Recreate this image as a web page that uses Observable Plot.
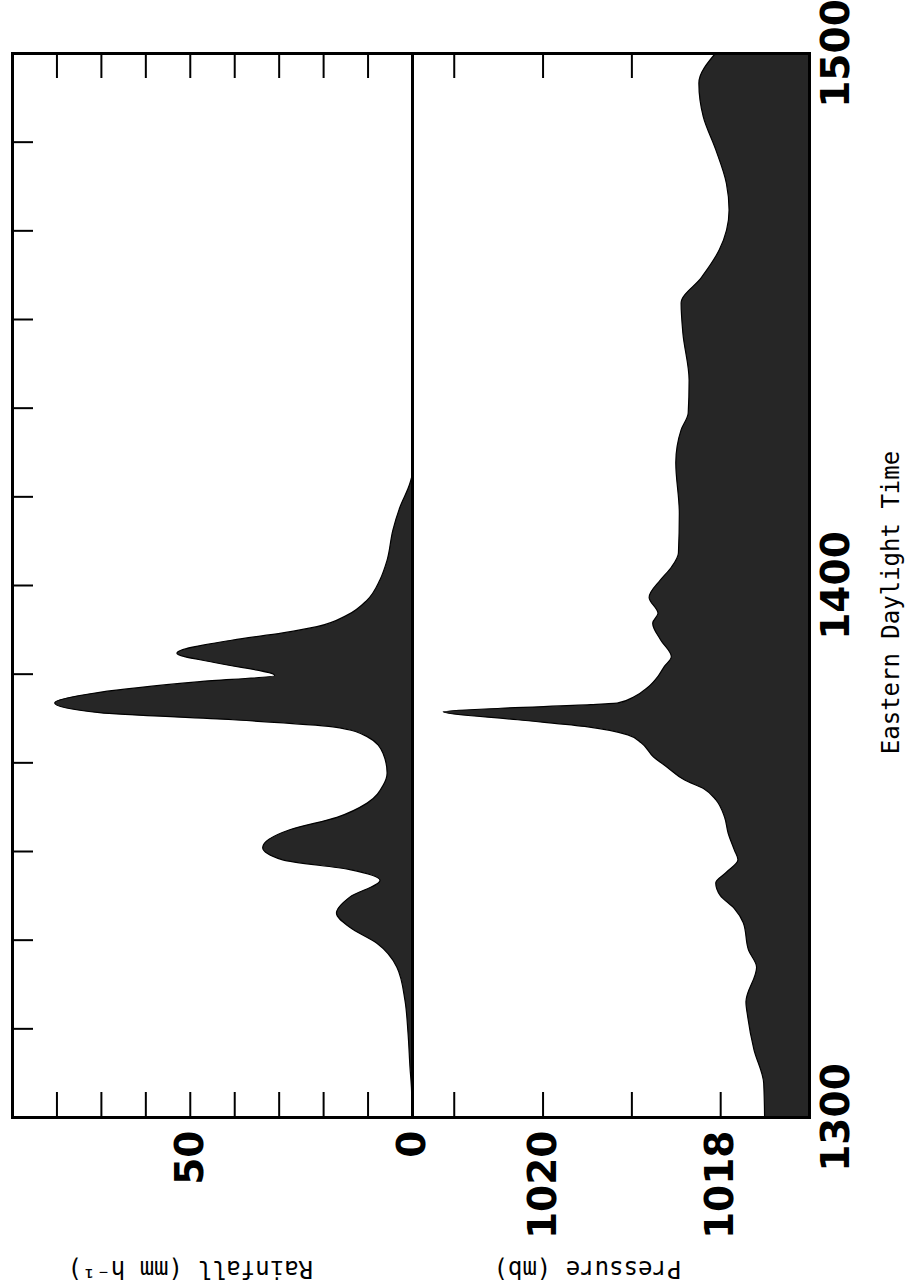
<!DOCTYPE html>
<html>
<head>
<meta charset="utf-8">
<script src="https://cdn.jsdelivr.net/npm/d3@7"></script>
<script src="https://cdn.jsdelivr.net/npm/@observablehq/plot@0.6"></script>
<style>
html, body { margin: 0; padding: 0; background: #fff; }
#chart { position: relative; width: 911px; height: 1287px; overflow: hidden; }
#chart svg { position: absolute; left: 0; top: 0; }
</style>
</head>
<body>
<div id="chart"></div>
<script>
// ---- time axis (minutes after 1300 EDT) ----
const timeDomain = [0, 120];
const timeTickValues = [0, 60, 120];
const timeTickLabels = ["1300", "1400", "1500"];
const minorTimeTicks = [10, 20, 30, 40, 50, 60, 70, 80, 90, 100, 110];

// ---- rainfall panel ----
const rainDomain = [90, 0];
const rainTicks = [10, 20, 30, 40, 50, 60, 70, 80];
const rainLabels = [50, 0];
const rainMinutes = [0, 3, 5.6, 9.5, 13.2, 16.9, 19.6, 21.4, 23.0, 24.8, 26.7, 27.9, 29.0, 30.4, 32.4, 33.8, 35.4, 37.4, 38.8, 41.0, 42.9, 44.0, 44.8, 45.6, 46.7, 47.9, 49.1, 49.8, 51.2, 52.3, 53.8, 54.6, 55.3, 56.6, 58.3, 60.6, 62.8, 66.2, 68.8, 71.5, 72.5, 120];
const rainValues  = [0, 0.1, 0.45, 0.9, 1.6, 3.4, 7.9, 14.0, 17.0, 14.0, 7.2, 14.0, 29.1, 33.6, 27.5, 16.9, 10.1, 6.5, 5.6, 6.5, 10.1, 17.8, 40.3, 70.3, 80.4, 70.3, 47.7, 30.9, 43.9, 52.9, 40.3, 29.1, 21.4, 14.6, 10.1, 7.2, 5.6, 4.3, 2.7, 0.45, 0, 0];

// ---- pressure panel ----
const pressDomain = [1021.47, 1017];
const pressBase = 1017;
const pressTicks = [1021, 1020, 1019, 1018];
const pressLabels = [1020, 1018];
const pressMinutes = [0, 3.8, 7.6, 11.3, 13.0, 16.9, 18.8, 21.9, 23.5, 25.0, 26.4, 27.6, 29.0, 30.1, 32.0, 33.8, 35.8, 37.0, 38.0, 39.4, 40.6, 42.2, 43.1, 44.0, 44.8, 45.7, 46.1, 46.5, 46.7, 47.4, 48.5, 49.7, 50.8, 51.9, 53.8, 55.7, 56.8, 58.6, 60.6, 62.0, 63.6, 68.1, 73.8, 77.5, 79.4, 83.1, 88.4, 91.8, 94.7, 97.8, 102.3, 105.3, 109.1, 112.8, 116.6, 120];
const pressValues  = [1017.50, 1017.51, 1017.62, 1017.69, 1017.71, 1017.59, 1017.68, 1017.74, 1017.84, 1018.00, 1018.05, 1017.93, 1017.80, 1017.84, 1017.91, 1017.95, 1018.05, 1018.18, 1018.40, 1018.59, 1018.75, 1018.89, 1019.04, 1019.49, 1020.28, 1021.12, 1020.47, 1019.46, 1019.15, 1018.97, 1018.81, 1018.70, 1018.63, 1018.55, 1018.67, 1018.76, 1018.70, 1018.80, 1018.67, 1018.55, 1018.47, 1018.46, 1018.50, 1018.44, 1018.36, 1018.35, 1018.42, 1018.44, 1018.21, 1018.01, 1017.90, 1017.93, 1018.05, 1018.19, 1018.24, 1018.05];

const rain = rainMinutes.map((m, i) => ({m, v: rainValues[i]}));
const press = pressMinutes.map((m, i) => ({m, v: pressValues[i]}));

const W = 911, H = 1287;
const mTop = 53, mBottom = 170;
const frameH = H - mTop - mBottom;
const numFont = "DejaVu Sans";
const monoFont = "DejaVu Sans Mono";
const fillColor = "#262626";

const common = {
  width: W, height: H, marginTop: mTop, marginBottom: mBottom,
  y: {domain: timeDomain, axis: null},
  style: {background: "transparent", overflow: "visible"}
};

const rainPlot = Plot.plot({
  ...common,
  marginLeft: 12, marginRight: W - 412,
  x: {domain: rainDomain, axis: null},
  marks: [
    Plot.areaX(rain, {y: "m", x: "v", curve: "monotone-y", fill: fillColor, stroke: "#000", strokeWidth: 1.2}),
    Plot.tickX(rainTicks, {x: d => d, insetBottom: frameH - 25, stroke: "#000", strokeWidth: 2}),
    Plot.tickX(rainTicks, {x: d => d, insetTop: frameH - 25, stroke: "#000", strokeWidth: 2}),
    Plot.tickY(minorTimeTicks, {y: d => d, insetRight: 400 - 21, stroke: "#000", strokeWidth: 2}),
    Plot.frame({stroke: "#000", strokeWidth: 3}),
    Plot.text(rainLabels, {x: d => d, text: d => String(d), frameAnchor: "bottom", dy: 13, rotate: -90,
      textAnchor: "end", lineAnchor: "middle", fontSize: 39, fontWeight: "bold", fontFamily: numFont, fill: "#000"}),
    Plot.text(["Rainfall (mm h\u207B\u00B9)"], {x: () => 50, text: d => d, frameAnchor: "bottom", dy: 151, rotate: 180,
      textAnchor: "middle", lineAnchor: "middle", fontSize: 24, fontFamily: monoFont, fill: "#000"})
  ]
});

const pressPlot = Plot.plot({
  ...common,
  marginLeft: 412, marginRight: W - 809,
  x: {domain: pressDomain, axis: null},
  marks: [
    Plot.tickX(pressTicks, {x: d => d, insetBottom: frameH - 25, stroke: "#000", strokeWidth: 2}),
    Plot.tickX(pressTicks, {x: d => d, insetTop: frameH - 25, stroke: "#000", strokeWidth: 2}),
    Plot.areaX(press, {y: "m", x1: () => pressBase, x2: "v", curve: "monotone-y", fill: fillColor, stroke: "#000", strokeWidth: 1.2}),
    Plot.frame({stroke: "#000", strokeWidth: 3}),
    Plot.text(pressLabels, {x: d => d, text: d => String(d), frameAnchor: "bottom", dy: 13, rotate: -90,
      textAnchor: "end", lineAnchor: "middle", fontSize: 39, fontWeight: "bold", fontFamily: numFont, fill: "#000"}),
    Plot.text(timeTickValues, {y: d => d, text: (d, i) => timeTickLabels[i], frameAnchor: "right", dx: 27, rotate: -90,
      textAnchor: "middle", lineAnchor: "middle", fontSize: 39, fontWeight: "bold", fontFamily: numFont, fill: "#000"}),
    Plot.text(["Eastern Daylight Time"], {text: d => d, frameAnchor: "right", dx: 82, dy: 17, rotate: -90,
      textAnchor: "middle", lineAnchor: "middle", fontSize: 24, fontFamily: monoFont, fill: "#000"}),
    Plot.text(["Pressure (mb)"], {x: () => 1019.5, text: d => d, frameAnchor: "bottom", dy: 151, rotate: 180,
      textAnchor: "middle", lineAnchor: "middle", fontSize: 24, fontFamily: monoFont, fill: "#000"})
  ]
});

const chart = document.getElementById("chart");
chart.appendChild(rainPlot);
chart.appendChild(pressPlot);
</script>
</body>
</html>
